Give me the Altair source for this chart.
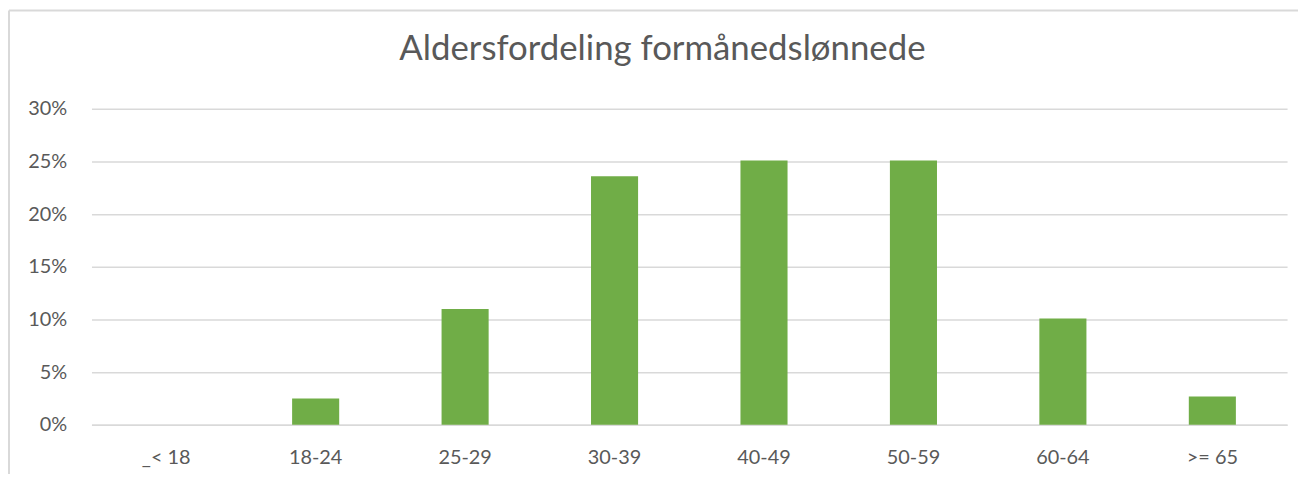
import altair as alt
import pandas as pd

categories = ["_< 18", "18-24", "25-29", "30-39", "40-49", "50-59", "60-64", ">= 65"]
shares = [0.0, 0.025, 0.110, 0.236, 0.251, 0.251, 0.101, 0.027]
y_ticks = [0, 0.05, 0.10, 0.15, 0.20, 0.25, 0.30]
title_text = "Aldersfordeling formånedslønnede"

df = pd.DataFrame({"alder": categories, "andel": shares})
one = pd.DataFrame({"k": [0]})

FONT = "Lato"
GREY = "#595959"

bars = alt.Chart(df).mark_bar(color="#70AD47").encode(
    x=alt.X(
        "alder:N",
        sort=categories,
        scale=alt.Scale(paddingInner=0.685, paddingOuter=0.3425, round=False),
        axis=alt.Axis(
            title=None, labelAngle=0, labelFont=FONT, labelFontSize=20,
            labelColor=GREY, ticks=False, labelPadding=23,
            domainColor="#d9d9d9", domainWidth=1.5, grid=False,
        ),
    ),
    y=alt.Y(
        "andel:Q",
        scale=alt.Scale(domain=[0, 0.3], nice=False),
        axis=alt.Axis(
            title=None, values=y_ticks, format=".0%", labelFont=FONT,
            labelFontSize=20, labelColor=GREY, ticks=False, domain=False,
            labelPadding=25, gridColor="#d9d9d9", gridWidth=1.5,
        ),
    ),
)

border_v = alt.Chart(one).mark_rule(color="#d9d9d9", strokeWidth=2).encode(
    x=alt.value(-83), y=alt.value(-99), y2=alt.value(400)
)
border_h = alt.Chart(one).mark_rule(color="#d9d9d9", strokeWidth=2).encode(
    x=alt.value(-83), x2=alt.value(1240), y=alt.value(-99)
)

chart = alt.layer(border_v, border_h, bars).properties(
    width=1203,
    height=318,
    background="white",
    title=alt.TitleParams(
        text=title_text, font=FONT, fontSize=35, fontWeight="normal",
        color=GREY, anchor="middle", dx=-27, offset=-58,
    ),
    autosize=alt.AutoSizeParams(type="none"),
    padding={"left": 84, "top": 100, "right": 11, "bottom": 48},
).configure_view(strokeWidth=0, stroke="transparent")

chart.save("out.html", embed_options={"renderer": "svg", "actions": False})
